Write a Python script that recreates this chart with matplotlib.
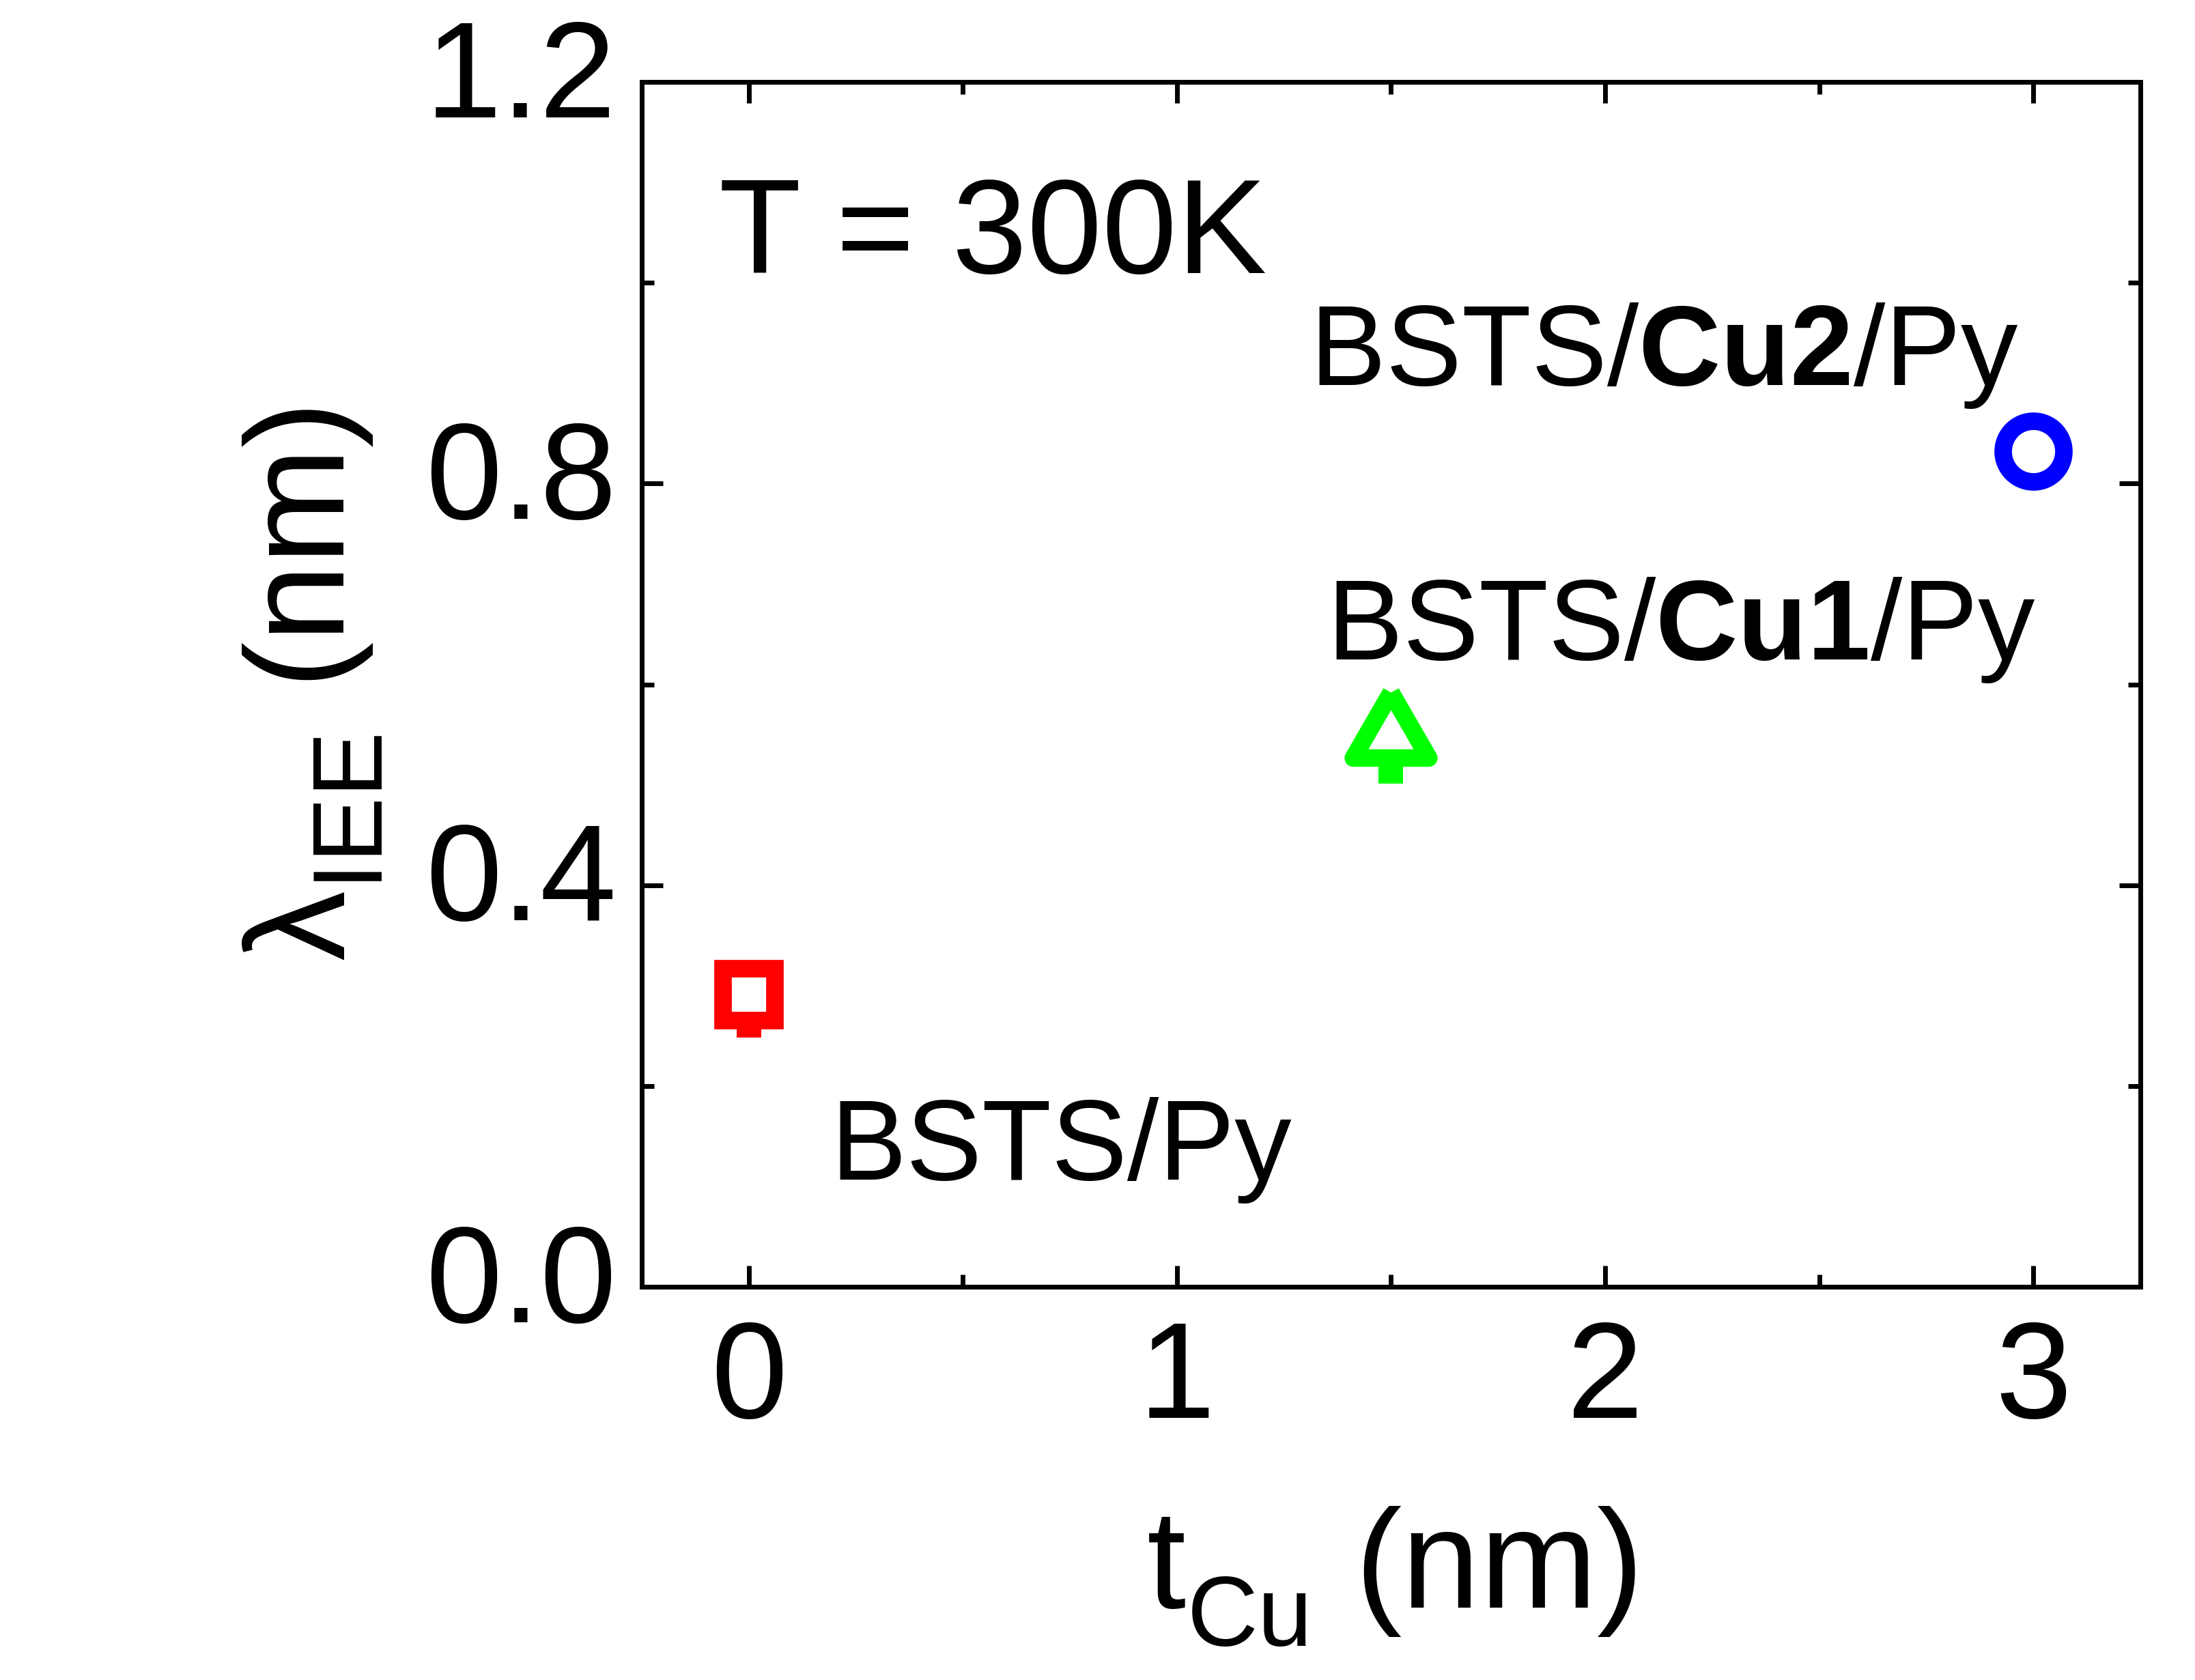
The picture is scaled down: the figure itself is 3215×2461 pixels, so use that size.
import numpy as np
import matplotlib
matplotlib.use('Agg')
import matplotlib.pyplot as plt
from matplotlib.markers import MarkerStyle

plt.rcParams['font.family'] = ['Liberation Sans', 'DejaVu Sans']
plt.rcParams['mathtext.fontset'] = 'custom'
plt.rcParams['mathtext.rm'] = 'Liberation Sans'
plt.rcParams['mathtext.it'] = 'Liberation Sans:italic'
plt.rcParams['mathtext.bf'] = 'Liberation Sans:bold'

# subscripts sit a bit lower in the original
try:
    import matplotlib._mathtext as _mt
    _mt.FontConstantsBase.sub1 = 0.52
except Exception:
    pass

# data
t_cu = [0.0, 1.5, 3.0]
lambda_iee = [0.291, 0.549, 0.832]
err_low = [0.034, 0.039, 0.025]
err_high = [0.022, 0.025, 0.025]
colors = ['#ff0000', '#00ff00', '#0000ff']
sample_labels = ['BSTS/Py', r'BSTS/$\mathbf{Cu1}$/Py', r'BSTS/$\mathbf{Cu2}$/Py']
label_pos = [(0.19, 0.107), (1.35, 0.625), (1.31, 0.898)]

# triangle centred on its centroid (like Origin)
tri = MarkerStyle([(0, 1), (-0.866, -0.5), (0.866, -0.5), (0, 1)], joinstyle='round')
markers = ['s', tri, 'o']
msizes = [55, 92, 64]

fig = plt.figure(figsize=(32.16, 24.61), dpi=100)
ax = fig.add_axes([0.2923, 0.2340, 0.9748 - 0.2923, 0.9512 - 0.2340])

for i in range(3):
    ax.errorbar(t_cu[i], lambda_iee[i], yerr=[[err_low[i]], [err_high[i]]],
                marker=markers[i], ms=msizes[i], mfc='white', mec=colors[i],
                mew=18.5, ecolor=colors[i], elinewidth=5.8, capsize=13,
                capthick=6.5, linestyle='none')
    ax.text(label_pos[i][0], label_pos[i][1], sample_labels[i], fontsize=120,
            ha='left', va='baseline')

ax.text(-0.07, 1.01, 'T = 300K', fontsize=142, ha='left', va='baseline')

ax.set_xlim(-0.25, 3.25)
ax.set_ylim(0, 1.2)
ax.set_xticks([0, 1, 2, 3])
ax.set_xticks([0.5, 1.5, 2.5], minor=True)
ax.set_yticks([0.0, 0.4, 0.8, 1.2])
ax.set_yticks([0.2, 0.6, 1.0], minor=True)
ax.set_yticklabels(['0.0', '0.4', '0.8', '1.2'])

ax.tick_params(which='both', direction='in', top=True, right=True, width=5,
               labelsize=145)
ax.tick_params(axis='x', pad=34)
ax.tick_params(axis='y', pad=27)
ax.tick_params(which='major', length=22)
ax.tick_params(which='minor', length=13)
for lab in ax.get_yticklabels():
    lab.set_va('center')
for s in ax.spines.values():
    s.set_linewidth(5)

ax.set_xlabel(r't$_{\mathrm{Cu}}$ (nm)', fontsize=148)
ax.set_ylabel('λ$_{\\mathrm{IEE}}$ (nm)', fontsize=148)
ax.xaxis.set_label_coords(0.5, -0.181)
ax.yaxis.set_label_coords(-0.172, 0.5)

fig.savefig('out.png', dpi=100)
